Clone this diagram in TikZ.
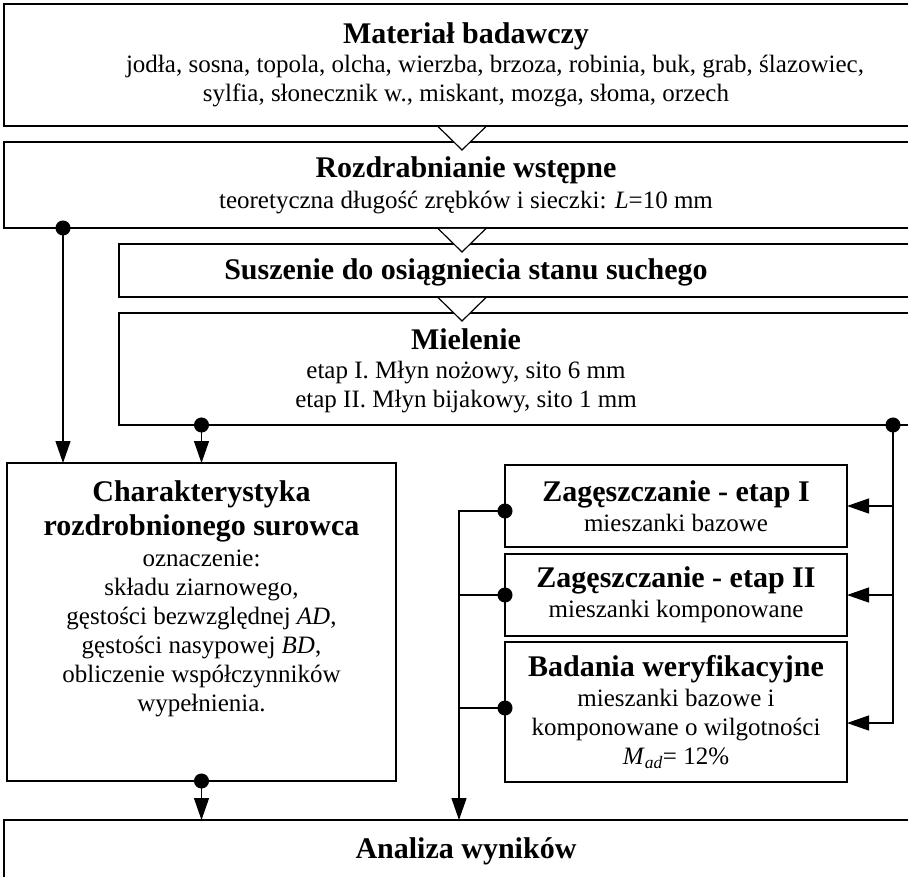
\documentclass[tikz,border=0pt]{standalone}
\usepackage{fontspec}
\setmainfont{Liberation Serif}
\usetikzlibrary{positioning,arrows.meta}

\newcommand{\stagehead}[1]{{\fontsize{30}{35}\selectfont\bfseries #1}}

\begin{document}
\begin{tikzpicture}[x=1pt, y=-1pt,
    every node/.style={font=\fontsize{25}{29}\selectfont},
    box/.style={draw, line width=1.8pt, inner sep=0pt, outer sep=0pt, align=center},
    lbl/.style={inner sep=0pt, align=center},
    link/.style={line width=1.2pt},
    feed/.style={link, {Circle[length=15pt, width=15pt]}-{Triangle[length=22pt, width=15pt]}, shorten <=-7.5pt},
    tap/.style={link, {Circle[length=15pt, width=15pt]}-, shorten <=-7.5pt},
    push/.style={link, -{Triangle[length=22pt, width=15pt]}},
    flowmark/.pic={
        \fill[white] (-24.5pt,-0.9pt) -- (0pt,-24pt) -- (24.5pt,-0.9pt) -- cycle;
        \draw[line width=1.2pt] (-24.5pt,0pt) -- (0pt,-24pt) -- (24.5pt,0pt);
    }]

    \path[use as bounding box] (0,0) rectangle (908,876);
    \clip (0,0) rectangle (908,876);

    % main column
    \node[box, minimum width=924pt, minimum height=122pt, anchor=north west] (material) at (4,4)
        {\stagehead{Materiał badawczy}\\
         \hspace*{58pt}jodła, sosna, topola, olcha, wierzba, brzoza, robinia, buk, grab, ślazowiec,\\
         sylfia, słonecznik w., miskant, mozga, słoma, orzech};
    \node[box, minimum width=924pt, minimum height=86pt, below=16pt of material.south west, anchor=north west] (rozdrab)
        {\stagehead{Rozdrabnianie wstępne}\\[2pt]
         teoretyczna długość zrębków i sieczki: \textit{L}=10~mm};
    \node[box, minimum width=820pt, minimum height=53pt, anchor=north west] (suszenie) at (119,244) {};
    \node[lbl] (suszenie-t) at (466,272) {\stagehead{Suszenie do osiągniecia stanu suchego}};
    \node[box, minimum width=820pt, minimum height=112pt, below=16pt of suszenie.south west, anchor=north west] (mielenie) {};
    \node[lbl] (mielenie-t) at (466,371)
        {\stagehead{Mielenie}\\
         etap I. Młyn nożowy, sito 6~mm\\
         etap II. Młyn bijakowy, sito 1~mm};

    % raw material characteristics
    \node[box, minimum width=389pt, minimum height=318pt, anchor=north west] (charakt) at (7,463) {};
    \node[lbl, below=17pt of charakt.north] (charakt-t)
        {\stagehead{Charakterystyka}\\[5pt]
         \stagehead{rozdrobnionego surowca}\\[2pt]
         oznaczenie:\\
         składu ziarnowego,\\
         gęstości bezwzględnej \textit{AD},\\
         gęstości nasypowej \textit{BD},\\
         obliczenie współczynników\\
         wypełnienia.};

    % densification and verification
    \node[box, minimum width=342pt, minimum height=82pt, anchor=north west] (zag1) at (505,465)
        {\stagehead{Zagęszczanie - etap I}\\[1pt] mieszanki bazowe};
    \node[box, minimum width=342pt, minimum height=82pt, below=7pt of zag1] (zag2)
        {\stagehead{Zagęszczanie - etap II}\\[1pt] mieszanki komponowane};
    \node[box, minimum width=342pt, minimum height=140pt, below=6pt of zag2] (weryf)
        {\stagehead{Badania weryfikacyjne}\\[1pt]
         mieszanki bazowe i\\
         komponowane o wilgotności\\
         \textit{M}\textsubscript{\textit{ad}}= 12\%};

    \node[box, minimum width=924pt, minimum height=62pt, anchor=north west] (analiza) at (4,820)
        {\stagehead{Analiza wyników}};

    % bus lines
    \coordinate (apex) at (462,0);
    \coordinate (lbus) at (63,0);
    \coordinate (cbus) at (459,0);
    \coordinate (rbus) at (893,0);
    \coordinate (zag1-out) at ([yshift=-5pt]zag1.west);
    \coordinate (weryf-out) at ([yshift=4pt]weryf.west);
    \coordinate (weryf-in) at ([yshift=-11pt]weryf.east);

    \draw[feed] (rozdrab.south -| lbus) -- (charakt.north -| lbus);
    \draw[feed] (mielenie.south -| charakt.north) -- (charakt.north);
    \draw[feed] (charakt.south) -- (analiza.north -| charakt.south);

    \draw[feed] (mielenie.south -| rbus) |- (weryf-in);
    \draw[push] (zag1.east -| rbus) -- (zag1.east);
    \draw[push] (zag2.east -| rbus) -- (zag2.east);

    \draw[feed] (zag1-out) -| (analiza.north -| cbus);
    \draw[tap] (zag2.west) -- (zag2.west -| cbus);
    \draw[tap] (weryf-out) -- (weryf-out -| cbus);

    % flow marks between stages
    \pic at (material.south -| apex) {flowmark};
    \pic at (rozdrab.south -| apex) {flowmark};
    \pic at (suszenie.south -| apex) {flowmark};
\end{tikzpicture}
\end{document}
